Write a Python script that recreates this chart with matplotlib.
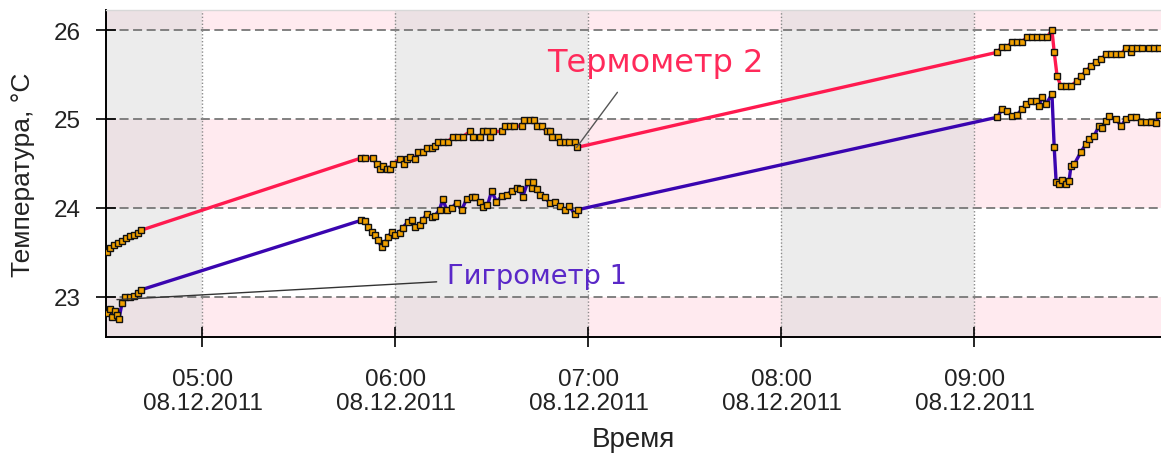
import datetime as dt
import matplotlib
matplotlib.use("Agg")
import matplotlib.pyplot as plt
import matplotlib.dates as mdates
from matplotlib.patches import Rectangle

# Sampling start; time offsets are minutes after it
start = dt.datetime(2011, 12, 8, 4, 30)

thermo_min = [0.3, 1.2, 2.5, 3.7, 5.0, 6.2, 7.5, 8.7, 9.9, 10.9,
              79.2, 80.4, 82.9, 84.2, 85.1, 86.0, 87.3, 88.2, 89.1, 91.3,
              92.6, 93.5, 94.4, 96.0, 96.9, 98.5, 99.7, 101.3, 102.2, 103.1,
              104.7, 106.2, 107.8, 109.3, 110.9, 113.1, 114.0, 116.2, 117.1, 118.6,
              119.3, 120.2, 123.0, 123.9, 125.5, 127.0, 129.2, 130.1, 131.7, 133.2,
              133.9, 135.4, 137.0, 137.9, 138.8, 140.4, 141.0, 142.6, 144.1, 145.7,
              146.3,
              277.1, 278.6, 280.2, 281.7, 283.3, 284.8, 286.4, 287.9, 289.5, 291.0,
              292.6, 294.1, 294.8, 295.7, 296.9, 298.5, 300.0, 301.9, 303.1, 304.7,
              306.3, 307.8, 309.4, 310.9, 312.5, 314.0, 315.6, 317.1, 318.7, 319.0,
              320.5, 322.1, 324.3, 325.8, 327.4]
thermo_t = [23.50, 23.55, 23.58, 23.61, 23.63, 23.66, 23.69, 23.70, 23.72, 23.75,
            24.56, 24.56, 24.56, 24.49, 24.44, 24.47, 24.44, 24.44, 24.49, 24.55,
            24.49, 24.55, 24.57, 24.55, 24.63, 24.63, 24.67, 24.67, 24.70, 24.74,
            24.74, 24.74, 24.80, 24.80, 24.80, 24.86, 24.80, 24.80, 24.86, 24.86,
            24.80, 24.86, 24.86, 24.92, 24.92, 24.92, 24.92, 24.99, 24.99, 24.99,
            24.92, 24.92, 24.86, 24.86, 24.80, 24.80, 24.74, 24.74, 24.74, 24.74,
            24.68,
            25.75, 25.81, 25.81, 25.87, 25.87, 25.87, 25.92, 25.92, 25.92, 25.92,
            25.92, 26.00, 25.75, 25.48, 25.37, 25.37, 25.37, 25.43, 25.48, 25.54,
            25.60, 25.64, 25.67, 25.73, 25.73, 25.73, 25.73, 25.80, 25.75, 25.80,
            25.80, 25.80, 25.80, 25.80, 25.80]

hygro_min = [0.3, 1.2, 1.9, 2.8, 3.4, 4.0, 5.0, 5.9, 7.5, 8.7, 9.9, 10.9,
             79.2, 80.4, 81.4, 82.6, 83.6, 84.5, 85.7, 86.7, 87.6, 88.8,
             89.8, 91.3, 92.2, 93.8, 95.0, 96.0, 97.5, 98.5, 99.7, 101.3,
             102.2, 103.7, 104.7, 105.9, 107.5, 109.0, 110.6, 112.1, 113.7, 114.6,
             116.2, 117.1, 118.6, 119.9, 121.4, 123.0, 124.6, 126.1, 127.7, 128.6,
             129.5, 131.1, 132.3, 132.6, 133.9, 134.8, 136.4, 137.9, 139.5, 141.0,
             142.6, 144.1, 145.7, 146.6,
             277.1, 278.6, 280.2, 281.7, 283.3, 284.8, 286.1, 287.6, 289.2, 290.1,
             291.0, 292.3, 294.1, 294.8, 295.4, 296.3, 297.2, 298.5, 299.4, 300.0,
             301.0, 303.1, 304.7, 305.6, 307.2, 308.7, 309.7, 310.9, 311.8, 314.0,
             315.6, 317.1, 318.7, 320.2, 321.8, 323.3, 324.9, 326.4, 327.4]
hygro_t = [22.82, 22.87, 22.78, 22.84, 22.80, 22.75, 22.93, 23.00, 23.00, 23.01, 23.05, 23.08,
           23.86, 23.85, 23.79, 23.73, 23.70, 23.64, 23.56, 23.61, 23.67, 23.73,
           23.70, 23.72, 23.78, 23.84, 23.87, 23.79, 23.81, 23.87, 23.93, 23.90,
           23.91, 23.98, 24.10, 23.98, 24.00, 24.06, 23.98, 24.10, 24.12, 24.12,
           24.07, 24.01, 24.03, 24.19, 24.07, 24.13, 24.15, 24.19, 24.23, 24.21,
           24.12, 24.29, 24.23, 24.29, 24.21, 24.15, 24.12, 24.06, 24.07, 24.02,
           23.98, 24.02, 23.93, 23.98,
           25.02, 25.11, 25.09, 25.03, 25.05, 25.11, 25.17, 25.20, 25.20, 25.15,
           25.25, 25.17, 25.28, 24.68, 24.29, 24.27, 24.32, 24.27, 24.30, 24.47,
           24.49, 24.63, 24.72, 24.77, 24.81, 24.92, 24.90, 24.98, 25.03, 25.00,
           24.92, 25.00, 25.02, 25.02, 24.97, 24.97, 24.97, 24.95, 25.05]

series_names = ["Термометр 2", "Гигрометр 1"]
y_ticks = [23, 24, 25, 26]


def to_time(minutes):
    return [start + dt.timedelta(minutes=m) for m in minutes]


fig = plt.figure(figsize=(11.61, 4.56), dpi=100)
ax = fig.add_axes([106 / 1161, 1 - 338 / 456, 1 - 106 / 1161, (338 - 11) / 456])

x0 = mdates.date2num(start)
x1 = mdates.date2num(start + dt.timedelta(minutes=328))
y0, y1 = 22.55, 26.225
ax.set_xlim(x0, x1)
ax.set_ylim(y0, y1)

# Background: grey hour columns crossed with pink degree rows
hour = 1 / 24
cell_colors = {(False, False): "#ffffff", (False, True): "#ffeaef",
               (True, False): "#ececec", (True, True): "#ece1e4"}
row_edges = [22, 23, 24, 25, 26, 27]
for h in range(4, 11):
    hx = mdates.date2num(dt.datetime(2011, 12, 8, h))
    grey = h % 2 == 0
    for r0, r1 in zip(row_edges[:-1], row_edges[1:]):
        pink = r0 % 2 == 0
        ax.add_patch(Rectangle((hx, r0), hour, r1 - r0, facecolor=cell_colors[(grey, pink)],
                               edgecolor="none", zorder=0))

for yv in y_ticks:
    ax.axhline(yv, color="#777777", lw=1.3, ls=(0, (5, 2.5)), zorder=1)
for h in range(5, 10):
    ax.axvline(mdates.date2num(dt.datetime(2011, 12, 8, h)), color="#8a8a8a",
               lw=1.0, ls=(0, (1, 1.5)), zorder=1)

tx = to_time(thermo_min)
hx_ = to_time(hygro_min)
ax.plot(hx_, hygro_t, color="#3a05b0", lw=2.4, zorder=3)
ax.plot(tx, thermo_t, color="#ff1a4f", lw=2.4, zorder=3)
mk = dict(ls="none", marker="s", ms=4.7, mfc="#f0a000", mec="#111111", mew=1.0, zorder=4)
ax.plot(hx_, hygro_t, **mk)
ax.plot(tx, thermo_t, **mk)

# Series captions with leader lines to the curves
ax.annotate("", xy=(tx[60], thermo_t[60]),
            xytext=(start + dt.timedelta(minutes=159.0), 25.30),
            arrowprops=dict(arrowstyle="-", color="#555555", lw=1.0, shrinkA=0, shrinkB=0),
            zorder=5)
ax.text(start + dt.timedelta(minutes=137.0), 25.64, series_names[0], color="#ff2a5a",
        fontsize=23, family="DejaVu Sans", ha="left", va="center", zorder=6)
ax.annotate("", xy=(start + dt.timedelta(minutes=3.4), 22.97),
            xytext=(start + dt.timedelta(minutes=102.8), 23.17),
            arrowprops=dict(arrowstyle="-", color="#333333", lw=1.0, shrinkA=0, shrinkB=0),
            zorder=5)
ax.text(start + dt.timedelta(minutes=105.9), 23.23, series_names[1], color="#5a28c8",
        fontsize=19.7, family="DejaVu Sans", ha="left", va="center", zorder=6)

ax.xaxis.set_major_locator(mdates.HourLocator())
ax.xaxis.set_major_formatter(mdates.DateFormatter("%H:%M\n%d.%m.%Y"))
ax.set_yticks(y_ticks)
ax.tick_params(axis="both", direction="inout", length=15, width=1.2, color="black",
               labelsize=17.5)
ax.tick_params(axis="x", pad=15)
ax.tick_params(axis="y", pad=11)
for lab in ax.get_xticklabels() + ax.get_yticklabels():
    lab.set_family("Liberation Sans")
    lab.set_color("#222222")
for lab in ax.get_xticklabels():
    lab.set_linespacing(1.1)

for side in ("left", "bottom"):
    ax.spines[side].set_color("black")
    ax.spines[side].set_linewidth(1.4)
ax.spines["top"].set_color("#d8d8d8")
ax.spines["top"].set_linewidth(1.0)
ax.spines["right"].set_visible(False)

ax.set_xlabel("Время", fontsize=20, family="Liberation Sans", color="#222222", labelpad=9)
ax.set_ylabel("Температура, °С", fontsize=19, family="Liberation Sans", color="#222222",
              labelpad=13)

fig.savefig("out.png", dpi=100)
